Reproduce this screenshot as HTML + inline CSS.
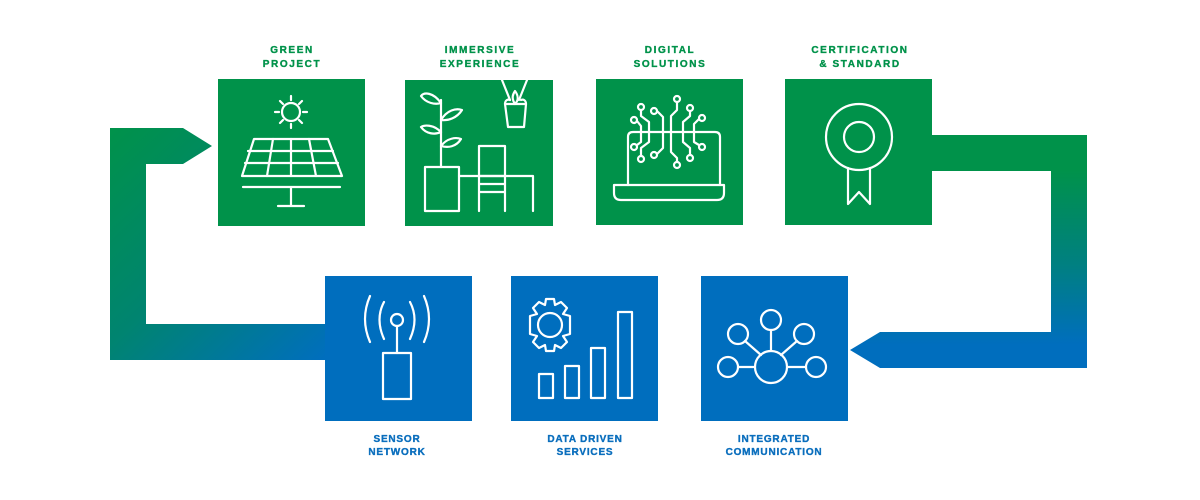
<!DOCTYPE html>
<html><head><meta charset="utf-8"><style>
html,body{margin:0;padding:0;background:#fff;width:1200px;height:500px;overflow:hidden}
svg{display:block}
.g{font-family:"Liberation Sans",sans-serif;font-weight:bold;font-size:10px;letter-spacing:1.6px;fill:#00924a;stroke:#00924a;stroke-width:0.35;text-anchor:middle}
.b{font-family:"Liberation Sans",sans-serif;font-weight:bold;font-size:10px;letter-spacing:0.8px;fill:#0a6ebd;stroke:#0a6ebd;stroke-width:0.35;text-anchor:middle}
.i{fill:none;stroke:#fff;stroke-width:2.2;stroke-linejoin:round;stroke-linecap:round}
</style></head><body>
<svg width="1200" height="500" viewBox="0 0 1200 500">
<defs>
<linearGradient id="gl" x1="110" y1="128" x2="325" y2="360" gradientUnits="userSpaceOnUse">
<stop offset="0" stop-color="#00924a"/><stop offset="0.5" stop-color="#008470"/><stop offset="1" stop-color="#006ebe"/></linearGradient>
<linearGradient id="gr" x1="0" y1="135" x2="0" y2="368" gradientUnits="userSpaceOnUse">
<stop offset="0.15" stop-color="#00924a"/><stop offset="0.55" stop-color="#008080"/><stop offset="0.9" stop-color="#006ebe"/></linearGradient>
</defs>
<path d="M110 128 H183 L212 146 L183 164 H146 V324 H330 V360 H110 Z" fill="url(#gl)"/>
<path d="M925 135 H1087 V368 H880 L850 350 L880 332 H1051 V171 H925 Z" fill="url(#gr)"/>
<rect x="218" y="79" width="147" height="147" fill="#00924a"/>
<rect x="405" y="80" width="148" height="146" fill="#00924a"/>
<rect x="596" y="79" width="147" height="146" fill="#00924a"/>
<rect x="785" y="79" width="147" height="146" fill="#00924a"/>
<rect x="325" y="276" width="147" height="145" fill="#006ebe"/>
<rect x="511" y="276" width="147" height="145" fill="#006ebe"/>
<rect x="701" y="276" width="147" height="145" fill="#006ebe"/>
<text class="g" x="292" y="53">GREEN</text><text class="g" x="292" y="67">PROJECT</text>
<text class="g" x="480" y="53">IMMERSIVE</text><text class="g" x="480" y="67">EXPERIENCE</text>
<text class="g" x="670" y="53">DIGITAL</text><text class="g" x="670" y="67">SOLUTIONS</text>
<text class="g" x="860" y="53">CERTIFICATION</text><text class="g" x="860" y="67">&amp; STANDARD</text>
<text class="b" x="397" y="442">SENSOR</text><text class="b" x="397" y="455">NETWORK</text>
<text class="b" x="585" y="442">DATA DRIVEN</text><text class="b" x="585" y="455">SERVICES</text>
<text class="b" x="774" y="442">INTEGRATED</text><text class="b" x="774" y="455">COMMUNICATION</text>
<!-- solar -->
<g class="i">
<circle cx="291" cy="112" r="9"/>
<path d="M291 96V100M291 124V128M275 112H279M303 112H307M280 101L283 104M299 120L302 123M302 101L299 104M283 120L280 123"/>
<path d="M254 139H328L342 176H242Z"/>
<path d="M248 151H333M245 163H338M273 139L267 176M291 139V176M309 139L316 176"/>
<path d="M243 187H340M291 187V206M278 206H304"/>
</g>
<!-- immersive -->
<g class="i">
<path d="M441 167V100"/>
<path d="M441 103C433 92 424 92 421 96C426 103 435 105 441 103Z"/>
<path d="M441 120C447 110 456 108 462 110C457 118 448 121 441 120Z"/>
<path d="M441 132C433 124 424 125 421 127C426 134 435 135 441 132Z"/>
<path d="M441 146C447 138 456 137 461 139C456 147 448 148 441 146Z"/>
<rect x="425" y="167" width="34" height="44"/>
<path d="M459 176H533V211"/>
<rect x="479" y="146" width="26" height="30"/>
<path d="M479 176V211M505 176V211M479 184H505M479 192H505"/>
<path d="M502 80L510 100M527 80L519 100"/>
<path d="M505 104H526L524 127H508Z"/>
<path d="M515 104C511 98 513 94 515 91C518 95 519 100 515 104M505 104C505 100 508 99 510 100M526 104C526 100 523 99 521 100"/>
</g>
<!-- digital -->
<g class="i">
<path d="M628 185V137Q628 132 633 132H715Q720 132 720 137V185"/>
<path d="M614 185H724V193Q724 200 717 200H621Q614 200 614 193Z"/>
<circle cx="677" cy="99" r="3"/><circle cx="641" cy="107" r="3"/><circle cx="654" cy="111" r="3"/><circle cx="690" cy="108" r="3"/><circle cx="634" cy="120" r="3"/><circle cx="702" cy="118" r="3"/>
<circle cx="634" cy="147" r="3"/><circle cx="702" cy="147" r="3"/><circle cx="641" cy="159" r="3"/><circle cx="654" cy="155" r="3"/><circle cx="690" cy="158" r="3"/><circle cx="677" cy="165" r="3"/>
<path d="M677 102V110L671 116V152L677 158V162"/>
<path d="M641 110V116L649 122V142L641 148V156"/>
<path d="M657 111L663 117V148L657 154"/>
<path d="M690 111V116L683 122V142L690 148V155"/>
<path d="M637 121L641 126V142L637 145"/>
<path d="M699 119L694 124V142L699 145"/>
</g>
<!-- cert -->
<g class="i">
<circle cx="859" cy="137" r="33"/><circle cx="859" cy="137" r="15"/>
<path d="M848 168V204L859 192L870 204V168"/>
</g>
<!-- sensor -->
<g class="i">
<circle cx="397" cy="320" r="6"/>
<path d="M397 326V353"/>
<rect x="383" y="353" width="28" height="46"/>
<path d="M384 302Q375 319 384 339M410 302Q419 319 410 339M370 296Q360 319 370 342M424 296Q434 319 424 342"/>
</g>
<!-- data -->
<g class="i">
<circle cx="550" cy="325" r="12"/>
<path d="M546 299H554L555 305L561 302L567 308L563 314L570 316V325V334L563 336L567 342L561 348L555 345L554 351H546L545 345L539 348L533 342L537 336L530 334V316L537 314L533 308L539 302L545 305Z"/>
<rect x="539" y="374" width="14" height="24"/><rect x="565" y="366" width="14" height="32"/><rect x="591" y="348" width="14" height="50"/><rect x="618" y="312" width="14" height="86"/>
</g>
<!-- integrated -->
<g class="i">
<circle cx="771" cy="367" r="16"/>
<circle cx="738" cy="334" r="10"/><circle cx="771" cy="320" r="10"/><circle cx="804" cy="334" r="10"/><circle cx="728" cy="367" r="10"/><circle cx="816" cy="367" r="10"/>
<path d="M771 330V351M745 341L761 355M797 341L781 355M738 367H755M787 367H806"/>
</g>
</svg>
</body></html>
